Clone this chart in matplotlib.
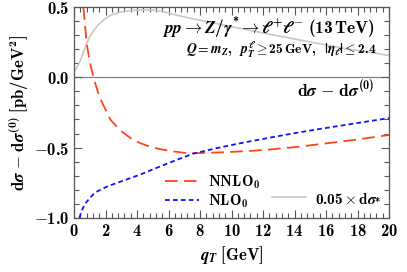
import numpy as np
import matplotlib
matplotlib.use('Agg')
import matplotlib.pyplot as plt
from matplotlib.ticker import MultipleLocator, FuncFormatter
from matplotlib.lines import Line2D

plt.rcParams['mathtext.fontset'] = 'custom'
plt.rcParams['mathtext.rm'] = 'cmb10'
plt.rcParams['mathtext.bf'] = 'cmb10'
plt.rcParams['mathtext.it'] = 'STIXGeneral:italic:bold'
plt.rcParams['mathtext.bfit'] = 'STIXGeneral:italic:bold'
plt.rcParams['font.family'] = 'cmb10'
plt.rcParams['axes.unicode_minus'] = False

# NNLO_0 (red, long dashes)
qt_nnlo = [0.59, 0.8, 1.0, 1.23, 1.5, 1.7, 2.0, 2.3, 2.9, 3.75, 4.2, 4.8, 5.5, 6.3, 7.2, 8.3,
           9.5, 11.0, 12.5, 14.0, 16.0, 18.0, 20.0]
nnlo = [0.5, 0.24, 0.11, 0.0, -0.10, -0.16, -0.23, -0.30, -0.375, -0.446, -0.468, -0.493,
        -0.512, -0.527, -0.54, -0.538, -0.533, -0.525, -0.513, -0.497, -0.47, -0.442, -0.41]

# NLO_0 (blue, short dashes)
qt_nlo = [0.34, 0.5, 0.7, 1.0, 1.25, 1.5, 2.0, 2.5, 3.0, 3.5, 4.2, 5.0, 6.0, 7.5, 9.0, 10.5,
          12.0, 14.0, 16.0, 18.0, 20.0]
nlo = [-1.0, -0.945, -0.9, -0.858, -0.83, -0.81, -0.782, -0.76, -0.74, -0.72, -0.692,
       -0.655, -0.61, -0.545, -0.505, -0.47, -0.438, -0.397, -0.36, -0.325, -0.29]

# 0.05 x dsigma_* (grey)
qt_ds = [0.0, 0.2, 0.4, 0.6, 0.8, 1.0, 1.2, 1.5, 1.86, 2.2, 2.5, 3.0, 3.5, 4.0, 4.5, 5.0,
         5.5, 6.0, 6.5, 7.4, 8.5, 10.0, 11.5, 13.0, 14.5, 16.0, 17.5, 19.0, 20.0]
ds = [0.04, 0.075, 0.12, 0.18, 0.24, 0.29, 0.325, 0.37, 0.407, 0.435, 0.45, 0.466, 0.474,
      0.478, 0.48, 0.479, 0.472, 0.458, 0.443, 0.42, 0.395, 0.36, 0.327, 0.294, 0.262,
      0.23, 0.2, 0.175, 0.155]

fig = plt.figure(figsize=(4.07, 2.72), dpi=100)
ax = fig.add_axes([0.182, 0.199, 0.774, 0.775])

ax.axhline(0, color='#808080', lw=0.9, zorder=1)
l_ds, = ax.plot(qt_ds, ds, color='#c8c8c8', lw=1.2)
l_nnlo, = ax.plot(qt_nnlo, nnlo, color='#ff4418', lw=1.3, dashes=(7, 3.5))
l_nlo, = ax.plot(qt_nlo, nlo, color='#1010ff', lw=1.3, dashes=(2.6, 1.8))

ax.set_xlim(0, 20)
ax.set_ylim(-1.0, 0.5)
ax.xaxis.set_major_locator(MultipleLocator(2))
ax.xaxis.set_minor_locator(MultipleLocator(0.4))
ax.yaxis.set_major_locator(MultipleLocator(0.5))
ax.yaxis.set_minor_locator(MultipleLocator(0.1))
ax.tick_params(which='both', direction='in', top=True, right=True, width=0.8, color='#555555')
ax.tick_params(which='major', length=6, labelsize=12)
ax.tick_params(which='minor', length=3.5)
ax.xaxis.set_major_formatter(FuncFormatter(lambda v, p: '$%d$' % round(v)))
ax.yaxis.set_major_formatter(FuncFormatter(lambda v, p: '$%.1f$' % v))
for s in ax.spines.values():
    s.set_color('#555555')
    s.set_linewidth(0.9)

ax.set_xlabel(r'$q_T\ [\mathrm{GeV}]$', fontsize=12, labelpad=4)
ax.set_ylabel(r'$\mathrm{d}\sigma\,-\,\mathrm{d}\sigma^{(0)}\ [\mathrm{pb/GeV^2}]$', fontsize=12, labelpad=2)

ax.text(0.955, 0.9, r'$pp \to Z/\gamma^{*} \to \ell^{+}\ell^{-}\ (13\,\mathrm{TeV})$',
        transform=ax.transAxes, ha='right', va='center', fontsize=12.5)
ax.text(0.96, 0.8, r'$Q = m_Z,\ \ p_T^{\ell} \geq 25\,\mathrm{GeV},\ \ \mathbfit{|}\eta_\ell\mathbfit{|} \leq 2.4$',
        transform=ax.transAxes, ha='right', va='center', fontsize=9.8)
ax.text(0.955, 0.61, r'$\mathrm{d}\sigma\,-\,\mathrm{d}\sigma^{(0)}$',
        transform=ax.transAxes, ha='right', va='center', fontsize=12.5)

blank = Line2D([], [], color='none')
ax.legend([l_nnlo, l_nlo, blank, l_ds],
          [r'$\mathrm{NNLO_0}$', r'$\mathrm{NLO_0}$', '', r'$0.05\times\mathrm{d}\sigma_{*}$'],
          ncol=2, loc='lower right', frameon=False, fontsize=11, handlelength=2.2,
          handletextpad=0.6, columnspacing=0.8, labelspacing=0.1, borderaxespad=0.1)

fig.savefig('out.png', dpi=100)
